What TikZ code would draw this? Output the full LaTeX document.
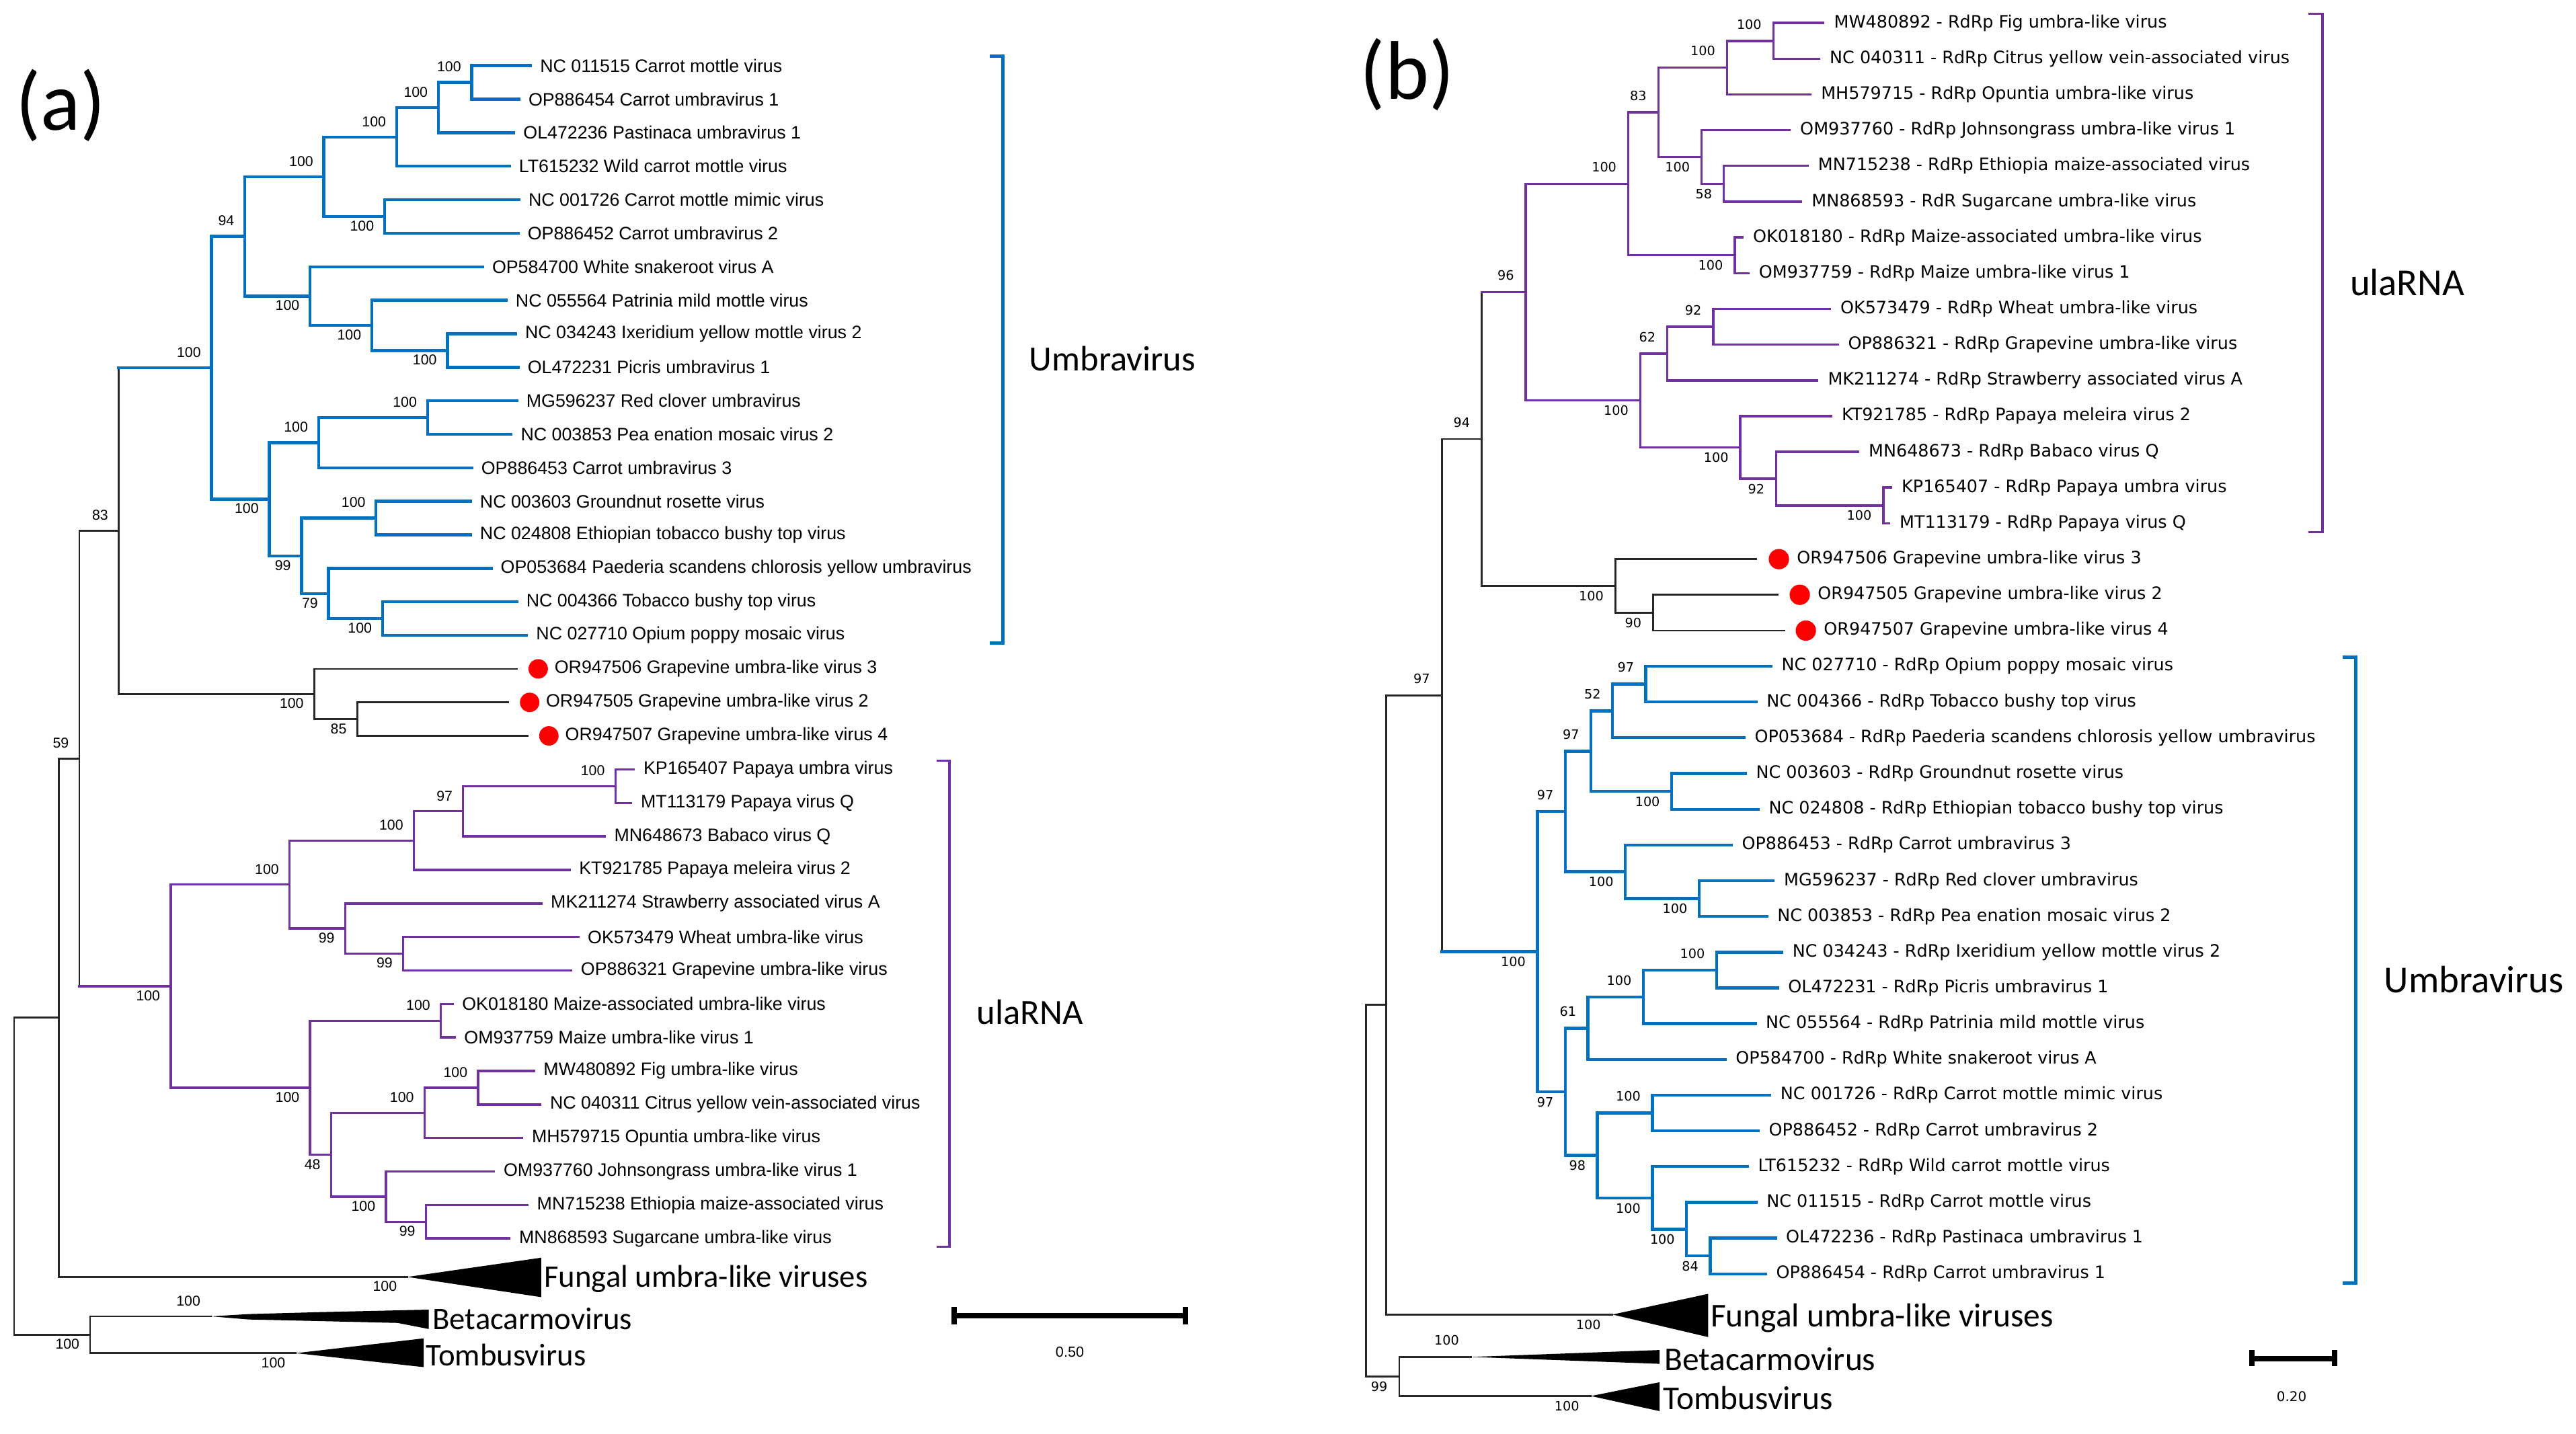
\documentclass[tikz,border=0pt]{standalone}
\usepackage{fontspec}
\newfontfamily\leaffont{Liberation Sans}
\newfontfamily\rdrpfont{DejaVu Sans}
\newfontfamily\cladefont{Carlito}
\usetikzlibrary{positioning}
\definecolor{umbblue}{RGB}{0,112,192}
\definecolor{ulapurple}{RGB}{112,48,160}
\definecolor{dotred}{RGB}{255,0,0}
\tikzset{
  ub/.style={umbblue, line width=1.3pt, line cap=rect},
  up/.style={ulapurple, line width=1pt, line cap=rect},
  uk/.style={black!85, line width=0.8pt, line cap=rect},
  leafa/.style={font=\leaffont\fontsize{7.8}{9}\selectfont, anchor=west, inner xsep=4pt, inner ysep=0pt},
  leafb/.style={font=\rdrpfont\fontsize{7.4}{9}\selectfont, anchor=west, inner xsep=4.4pt, inner ysep=0pt},
  bootA/.style={font=\leaffont\fontsize{6.2}{7}\selectfont, inner sep=0pt, anchor=south east, xshift=-4.4pt, yshift=4.3pt},
  bootAlow/.style={bootA, anchor=north east, yshift=-6pt},
  bootB/.style={font=\rdrpfont\fontsize{5.6}{7}\selectfont, inner sep=0pt, anchor=south east, xshift=-4.9pt, yshift=4.9pt},
  bootBlow/.style={bootB, anchor=north east, yshift=-7pt},
  rdot/.style={circle, fill=dotred, inner sep=0pt, minimum size=8.4pt},
  cladeA/.style={font=\cladefont\fontsize{13.6}{16}\selectfont, anchor=west, inner sep=0pt},
  cladeB/.style={font=\cladefont\fontsize{14.4}{17}\selectfont, anchor=west, inner sep=0pt},
  groupA/.style={font=\cladefont\fontsize{15.3}{18}\selectfont, anchor=west, inner sep=0pt},
  groupB/.style={font=\cladefont\fontsize{16.5}{19}\selectfont, anchor=west, inner sep=0pt},
  panel/.style={font=\cladefont\fontsize{36}{40}\selectfont, inner sep=0pt}
}
\begin{document}
\begin{tikzpicture}[x=0.025cm, y=-0.025cm]
\useasboundingbox (0,0) rectangle (1568,873);

% ---------------- (a)
\node[panel] (pa) at (37,64) {(a)};

\foreach \n/\x/\y/\txt in {
  a1/322.9/40.0/NC 011515 Carrot mottle virus,
  a2/315.8/60.4/OP886454 Carrot umbravirus 1,
  a3/312.7/80.8/OL472236 Pastinaca umbravirus 1,
  a4/310.0/101.2/LT615232 Wild carrot mottle virus,
  a5/315.8/121.6/NC 001726 Carrot mottle mimic virus,
  a6/315.3/142.0/OP886452 Carrot umbravirus 2,
  a7/293.7/162.4/OP584700 White snakeroot virus A,
  a8/308.0/182.8/NC 055564 Patrinia mild mottle virus,
  a9/313.8/203.2/NC 034243 Ixeridium yellow mottle virus 2,
  a10/315.3/223.6/OL472231 Picris umbravirus 1,
  a11/314.5/244.0/MG596237 Red clover umbravirus,
  a12/311.1/264.4/NC 003853 Pea enation mosaic virus 2,
  a13/287.1/284.8/OP886453 Carrot umbravirus 3,
  a14/286.3/305.2/NC 003603 Groundnut rosette virus,
  a15/286.3/325.6/NC 024808 Ethiopian tobacco bushy top virus,
  a16/298.9/346.0/OP053684 Paederia scandens chlorosis yellow umbravirus,
  a17/314.5/366.4/NC 004366 Tobacco bushy top virus,
  a18/320.5/386.8/NC 027710 Opium poppy mosaic virus,
  a22/385.8/468.4/KP165407 Papaya umbra virus,
  a23/384.2/488.8/MT113179 Papaya virus Q,
  a24/368.0/509.2/MN648673 Babaco virus Q,
  a25/346.6/529.6/KT921785 Papaya meleira virus 2,
  a26/329.4/550.0/MK211274 Strawberry associated virus A,
  a27/351.9/570.4/OK573479 Wheat umbra-like virus,
  a28/347.7/590.8/OP886321 Grapevine umbra-like virus,
  a29/275.4/611.2/OK018180 Maize-associated umbra-like virus,
  a30/276.7/631.6/OM937759 Maize umbra-like virus 1,
  a31/325.0/652.0/MW480892 Fig umbra-like virus,
  a32/328.9/672.4/NC 040311 Citrus yellow vein-associated virus,
  a33/317.9/692.8/MH579715 Opuntia umbra-like virus,
  a34/300.7/713.2/OM937760 Johnsongrass umbra-like virus 1,
  a35/321.0/733.6/MN715238 Ethiopia maize-associated virus,
  a36/310.1/754.0/MN868593 Sugarcane umbra-like virus}
  \node[leafa] (\n) at (\x,\y) {\txt};

\coordinate (a19) at (314.5,407.2);
\coordinate (a20) at (309.3,427.6);
\coordinate (a21) at (321.0,448.0);
\node[rdot] (da19) at (327.6,407.2) {};
\node[rdot] (da20) at (322.4,427.6) {};
\node[rdot] (da21) at (334.1,448.0) {};
\node[leafa, right=0pt of da19, inner xsep=2.5pt] (ta19) {OR947506 Grapevine umbra-like virus 3};
\node[leafa, right=0pt of da20, inner xsep=2.5pt] (ta20) {OR947505 Grapevine umbra-like virus 2};
\node[leafa, right=0pt of da21, inner xsep=2.5pt] (ta21) {OR947507 Grapevine umbra-like virus 4};

\coordinate (A12) at (287.1,50.2);
\coordinate (A13) at (266.8,65.5);
\coordinate (A14) at (241.4,83.4);
\coordinate (A56) at (234.1,131.8);
\coordinate (A16) at (197.1,107.6);
\coordinate (A910) at (272.3,213.4);
\coordinate (A810) at (226.3,198.1);
\coordinate (A710) at (188.7,180.3);
\coordinate (A110) at (149.0,143.9);
\coordinate (A1112) at (260.2,254.2);
\coordinate (A1113) at (193.9,269.5);
\coordinate (A1415) at (228.9,315.4);
\coordinate (A1718) at (232.8,376.6);
\coordinate (A1618) at (200.0,361.3);
\coordinate (A1418) at (183.5,338.4);
\coordinate (A1118) at (163.9,303.9);
\coordinate (AUmb) at (128.7,223.9);
\coordinate (A2021) at (217.4,437.8);
\coordinate (AGr) at (191.3,422.5);
\coordinate (AUG) at (72.3,323.2);
\coordinate (A2223) at (374.6,478.6);
\coordinate (A2224) at (281.9,493.9);
\coordinate (A2225) at (251.9,511.8);
\coordinate (A2728) at (245.4,580.6);
\coordinate (A2628) at (210.1,565.3);
\coordinate (A2228) at (176.2,538.5);
\coordinate (A2930) at (268.3,621.4);
\coordinate (A3132) at (291.0,662.2);
\coordinate (A3133) at (258.4,677.5);
\coordinate (A3536) at (259.2,743.8);
\coordinate (A3436) at (234.9,728.5);
\coordinate (A3136) at (201.5,703.0);
\coordinate (A2936) at (188.7,662.2);
\coordinate (AUla) at (103.9,600.4);
\coordinate (AUGU) at (48.3,461.8);
\coordinate (AFun) at (248.0,777.4);
\coordinate (A59) at (35.8,619.6);
\coordinate (ABeta) at (128.4,801.4);
\coordinate (ATomb) at (180.1,823.8);
\coordinate (AOut) at (54.8,812.6);
\coordinate (ARoot) at (8.6,716.1);

\foreach \p/\c/\d in {A12/a1/a2, A13/A12/a3, A14/A13/a4, A56/a5/a6, A16/A14/A56,
  A910/a9/a10, A810/a8/A910, A710/a7/A810, A110/A16/A710, A1112/a11/a12,
  A1113/A1112/a13, A1415/a14/a15, A1718/a17/a18, A1618/a16/A1718,
  A1418/A1415/A1618, A1118/A1113/A1418, AUmb/A110/A1118}
  \draw[ub] (\c) -- (\p |- \c) -- (\p |- \d) -- (\d);
\foreach \p/\c/\d in {A2223/a22/a23, A2224/A2223/a24, A2225/A2224/a25,
  A2728/a27/a28, A2628/a26/A2728, A2228/A2225/A2628, A2930/a29/a30,
  A3132/a31/a32, A3133/A3132/a33, A3536/a35/a36, A3436/a34/A3536,
  A3136/A3133/A3436, A2936/A2930/A3136, AUla/A2228/A2936}
  \draw[up] (\c) -- (\p |- \c) -- (\p |- \d) -- (\d);
\foreach \p/\c/\d in {A2021/a20/a21, AGr/a19/A2021, AUG/AUmb/AGr,
  AUGU/AUG/AUla, A59/AUGU/AFun, AOut/ABeta/ATomb, ARoot/A59/AOut}
  \draw[uk] (\c) -- (\p |- \c) -- (\p |- \d) -- (\d);
\draw[ub] (AUG |- AUmb) -- (AUmb);
\draw[up] (AUGU |- AUla) -- (AUla);

\fill (AFun) -- (329.4,765.7) -- (329.4,789.7) -- cycle;
\fill (ABeta) -- (151.4,800.0) -- (195.8,798.8) -- (261,797.3) -- (261,809.1)
  -- (242,805.4) -- (195.8,804.3) -- (151.4,803.3) -- cycle;
\fill (ATomb) -- (257.9,814.8) -- (257.9,832.3) -- cycle;
\node[cladeA] (fa) at (331,778.5) {Fungal umbra-like viruses};
\node[cladeA] (ba) at (263.1,803) {Betacarmovirus};
\node[cladeA] (tba) at (259,824.8) {Tombusvirus};

\foreach \n/\v [count=\i] in {A12/100, A13/100, A14/100, A16/100, A110/94,
  A1112/100, A1113/100, A1415/100, AUmb/100, AUG/83, AUGU/59, A2223/100,
  A2224/97, A2225/100, A2228/100, A2930/100, A3133/100, A3132/100, ABeta/100}
  \node[bootA] (sa\i) at (\n) {\v};
\foreach \n/\v [count=\i] in {A56/100, A910/100, A810/100, A710/100, A1418/99,
  A1618/79, A1718/100, A1118/100, AGr/100, A2021/85, A2628/99, A2728/99,
  AUla/100, A2936/100, A3136/48, A3436/100, A3536/99, AFun/100, ATomb/100, AOut/100}
  \node[bootAlow] (ta\i) at (\n) {\v};

\draw[ub] (603.3,34.2) -- (610.4,34.2) -- (610.4,391.5) -- (603.3,391.5);
\node[groupA] (umba) at (626.3,218.2) {Umbravirus};
\draw[up] (570.8,463) -- (578,463) -- (578,759) -- (570.8,759);
\node[groupA] (ulaa) at (594.4,616) {ulaRNA};

\draw[line width=2.3pt] (580.9,795.7) -- (580.9,806.1) (580.9,800.9) -- (721.6,800.9)
  (721.6,795.7) -- (721.6,806.1);
\node[font=\leaffont\fontsize{6.3}{7}\selectfont, inner sep=0pt] (sca) at (651.2,823.3) {0.50};

% ---------------- (b)
\node[panel] (pb) at (856.5,45.4) {(b)};

\foreach \n/\x/\y/\txt in {
  b1/1109.9/14.0/MW480892 - RdRp Fig umbra-like virus,
  b2/1107.3/35.8/NC 040311 - RdRp Citrus yellow vein-associated virus,
  b3/1102.0/57.5/MH579715 - RdRp Opuntia umbra-like virus,
  b4/1089.3/79.3/OM937760 - RdRp Johnsongrass umbra-like virus 1,
  b5/1100.2/101.0/MN715238 - RdRp Ethiopia maize-associated virus,
  b6/1096.3/122.8/MN868593 - RdR Sugarcane umbra-like virus,
  b7/1060.6/144.5/OK018180 - RdRp Maize-associated umbra-like virus,
  b8/1064.2/166.3/OM937759 - RdRp Maize umbra-like virus 1,
  b9/1113.8/188.1/OK573479 - RdRp Wheat umbra-like virus,
  b10/1118.5/209.8/OP886321 - RdRp Grapevine umbra-like virus,
  b11/1106.2/231.6/MK211274 - RdRp Strawberry associated virus A,
  b12/1114.6/253.3/KT921785 - RdRp Papaya meleira virus 2,
  b13/1131.0/275.1/MN648673 - RdRp Babaco virus Q,
  b14/1151.1/296.8/KP165407 - RdRp Papaya umbra virus,
  b15/1149.8/318.6/MT113179 - RdRp Papaya virus Q,
  b19/1078.0/405.6/NC 027710 - RdRp Opium poppy mosaic virus,
  b20/1068.9/427.4/NC 004366 - RdRp Tobacco bushy top virus,
  b21/1061.6/449.1/OP053684 - RdRp Paederia scandens chlorosis yellow umbravirus,
  b22/1062.4/470.9/NC 003603 - RdRp Groundnut rosette virus,
  b23/1070.2/492.7/NC 024808 - RdRp Ethiopian tobacco bushy top virus,
  b24/1053.8/514.4/OP886453 - RdRp Carrot umbravirus 3,
  b25/1079.4/536.2/MG596237 - RdRp Red clover umbravirus,
  b26/1075.4/557.9/NC 003853 - RdRp Pea enation mosaic virus 2,
  b27/1084.6/579.7/NC 034243 - RdRp Ixeridium yellow mottle virus 2,
  b28/1082.0/601.4/OL472231 - RdRp Picris umbravirus 1,
  b29/1068.4/623.2/NC 055564 - RdRp Patrinia mild mottle virus,
  b30/1050.1/645.0/OP584700 - RdRp White snakeroot virus A,
  b31/1077.3/666.7/NC 001726 - RdRp Carrot mottle mimic virus,
  b32/1070.2/688.5/OP886452 - RdRp Carrot umbravirus 2,
  b33/1063.7/710.2/LT615232 - RdRp Wild carrot mottle virus,
  b34/1068.9/732.0/NC 011515 - RdRp Carrot mottle virus,
  b35/1080.7/753.7/OL472236 - RdRp Pastinaca umbravirus 1,
  b36/1074.7/775.5/OP886454 - RdRp Carrot umbravirus 1}
  \node[leafb] (\n) at (\x,\y) {\txt};

\coordinate (b16) at (1068.9,340.4);
\coordinate (b17) at (1082.0,362.1);
\coordinate (b18) at (1085.9,383.9);
\node[rdot, minimum size=8.8pt] (db16) at (1082.8,340.4) {};
\node[rdot, minimum size=8.8pt] (db17) at (1095.5,362.1) {};
\node[rdot, minimum size=8.8pt] (db18) at (1099.2,383.9) {};
\node[leafb, right=0pt of db16, inner xsep=3pt] (tb16) {OR947506 Grapevine umbra-like virus 3};
\node[leafb, right=0pt of db17, inner xsep=3pt] (tb17) {OR947505 Grapevine umbra-like virus 2};
\node[leafb, right=0pt of db18, inner xsep=3pt] (tb18) {OR947507 Grapevine umbra-like virus 4};

\coordinate (B12) at (1079.4,24.9);
\coordinate (B13) at (1051.2,41.2);
\coordinate (B56) at (1049.3,111.9);
\coordinate (B46) at (1035.8,95.6);
\coordinate (B16) at (1009.4,68.4);
\coordinate (B78) at (1055.9,155.4);
\coordinate (B18) at (991.1,111.9);
\coordinate (B910) at (1042.8,199.0);
\coordinate (B911) at (1014.9,215.3);
\coordinate (B1415) at (1146.4,307.7);
\coordinate (B1315) at (1081.2,291.4);
\coordinate (B1215) at (1059.3,272.4);
\coordinate (B915) at (998.4,243.8);
\coordinate (B115) at (928.7,177.9);
\coordinate (B1718) at (1006.3,373.0);
\coordinate (BGr) at (983.3,356.7);
\coordinate (B94) at (901.9,267.3);
\coordinate (B1920) at (1001.8,416.5);
\coordinate (B1921) at (981.5,432.8);
\coordinate (B2223) at (1017.5,481.8);
\coordinate (B1923) at (968.4,457.3);
\coordinate (B2526) at (1034.2,547.1);
\coordinate (B2426) at (989.3,530.7);
\coordinate (B1926) at (952.8,494.0);
\coordinate (B2728) at (1044.9,590.6);
\coordinate (B2729) at (1000.3,606.9);
\coordinate (B2730) at (966.6,626.0);
\coordinate (B3132) at (1005.8,677.6);
\coordinate (B3536) at (1041.0,764.6);
\coordinate (B3436) at (1026.6,748.3);
\coordinate (B3336) at (1005.8,729.3);
\coordinate (B3136) at (972.3,703.4);
\coordinate (B2736) at (952.8,664.7);
\coordinate (BUmb) at (935.8,579.4);
\coordinate (B97) at (877.6,423.3);
\coordinate (BFun) at (981.5,800.3);
\coordinate (BIn) at (843.6,611.8);
\coordinate (BBeta) at (895.3,826.1);
\coordinate (BTomb) at (968.4,849.9);
\coordinate (BOut) at (851.7,838.0);
\coordinate (BRoot) at (831.4,724.9);

\foreach \p/\c/\d in {B12/b1/b2, B13/B12/b3, B56/b5/b6, B46/b4/B56, B16/B13/B46,
  B78/b7/b8, B18/B16/B78, B910/b9/b10, B911/B910/b11, B1415/b14/b15,
  B1315/b13/B1415, B1215/b12/B1315, B915/B911/B1215, B115/B18/B915}
  \draw[up] (\c) -- (\p |- \c) -- (\p |- \d) -- (\d);
\foreach \p/\c/\d in {B1920/b19/b20, B1921/B1920/b21, B2223/b22/b23,
  B1923/B1921/B2223, B2526/b25/b26, B2426/b24/B2526, B1926/B1923/B2426,
  B2728/b27/b28, B2729/B2728/b29, B2730/B2729/b30, B3132/b31/b32,
  B3536/b35/b36, B3436/b34/B3536, B3336/b33/B3436, B3136/B3132/B3336,
  B2736/B2730/B3136, BUmb/B1926/B2736}
  \draw[ub] (\c) -- (\p |- \c) -- (\p |- \d) -- (\d);
\foreach \p/\c/\d in {B1718/b17/b18, BGr/b16/B1718, B94/B115/BGr, B97/B94/BUmb,
  BIn/B97/BFun, BOut/BBeta/BTomb, BRoot/BIn/BOut}
  \draw[uk] (\c) -- (\p |- \c) -- (\p |- \d) -- (\d);
\draw[up] (B94 |- B115) -- (B115);
\draw[ub] (B97 |- BUmb) -- (BUmb);

\fill (BFun) -- (1039.7,787.7) -- (1039.7,814) -- cycle;
\fill (BBeta) -- (1010.2,821.9) -- (1010.2,830.3) -- cycle;
\fill (BTomb) -- (1010.2,841.5) -- (1010.2,859.1) -- cycle;
\node[cladeB] (fb) at (1041,802.3) {Fungal umbra-like viruses};
\node[cladeB] (bb) at (1012.8,827.5) {Betacarmovirus};
\node[cladeB] (tbb) at (1012,851.3) {Tombusvirus};

\foreach \n/\v [count=\i] in {B12/100, B13/100, B16/83, B18/100, B115/96,
  B911/62, B910/92, B94/94, B97/97, B1926/97, B1923/97, B1921/52, B1920/97,
  B2730/61, B2729/100, B2728/100, B3132/100, BBeta/100}
  \node[bootB] (sb\i) at (\n) {\v};
\foreach \n/\v [count=\i] in {B46/100, B56/58, B78/100, B915/100, B1215/100,
  B1315/92, B1415/100, BGr/100, B1718/90, BUmb/100, B2223/100, B2426/100,
  B2526/100, B2736/97, B3136/98, B3336/100, B3436/100, B3536/84, BFun/100,
  BTomb/100, BOut/99}
  \node[bootBlow] (tb\i) at (\n) {\v};

\draw[up] (1405.9,8.4) -- (1413.7,8.4) -- (1413.7,324) -- (1405.9,324);
\node[groupB] (ulab) at (1430.2,171.8) {ulaRNA};
\draw[ub] (1426.8,400) -- (1434,400) -- (1434,781.2) -- (1426.8,781.2);
\node[groupB] (umbb) at (1451,596.4) {Umbravirus};

\draw[line width=2.3pt] (1370.6,822) -- (1370.6,831.7) (1370.6,827) -- (1421,827)
  (1421,822) -- (1421,831.7);
\node[font=\rdrpfont\fontsize{5.8}{7}\selectfont, inner sep=0pt] (scb) at (1394.9,850.4) {0.20};
\end{tikzpicture}
\end{document}
